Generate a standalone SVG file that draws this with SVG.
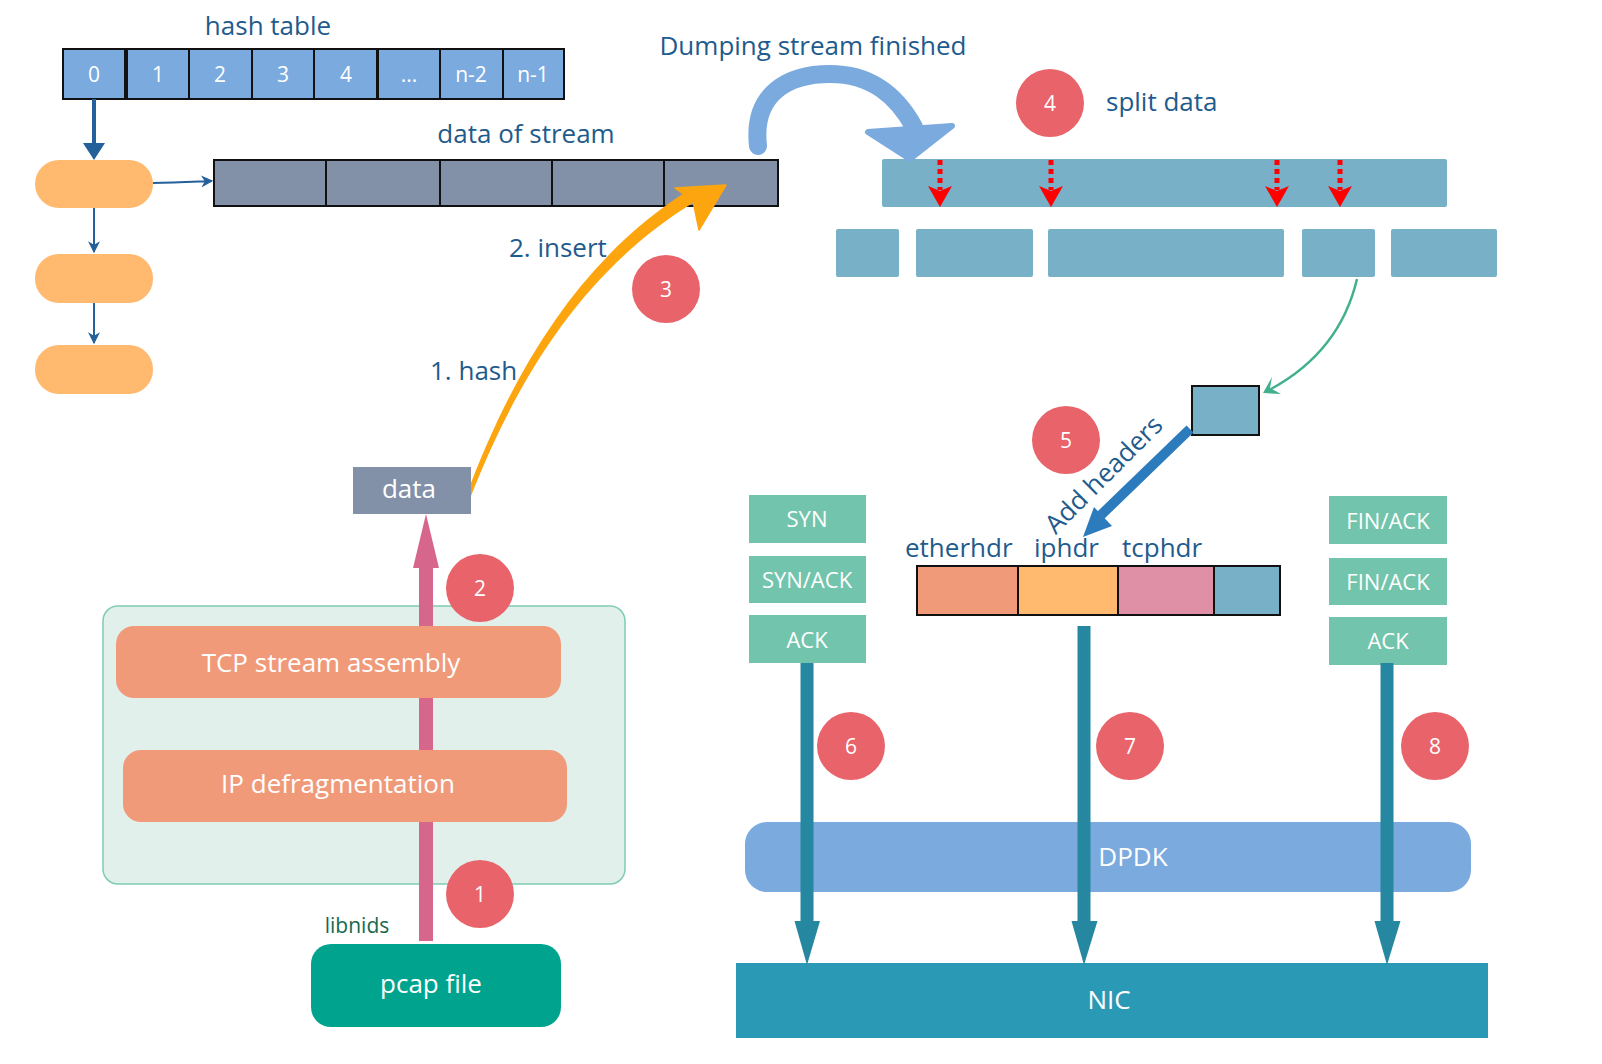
<svg xmlns="http://www.w3.org/2000/svg" width="1602" height="1064" viewBox="0 0 1602 1064">
<defs>
<style>
text{font-family:"Open Sans","Noto Sans","DejaVu Sans",sans-serif}
.lbl{fill:#1F5B8C;font-size:26px}
.w{fill:#fff;text-anchor:middle}
.cell{fill:#7BAADF;stroke:#111;stroke-width:2}
.seg{fill:#8391A8;stroke:#111;stroke-width:2}
.pill{fill:#FFBA70}
.teal{fill:#78B0C8}
.mint{fill:#72C5AC}
.num{fill:#E8636A}
.numt{fill:#fff;font-size:21px;text-anchor:middle}
.red{stroke:#FF0000;stroke-width:5;stroke-dasharray:5 4;fill:none}
.redh{fill:#FF0000}
.tarr{stroke:#2587A0;stroke-width:13;fill:none}
.tarh{fill:#2587A0}
</style>
<marker id="ah" viewBox="0 0 10 10" refX="9" refY="5" markerWidth="12" markerHeight="12" orient="auto" markerUnits="userSpaceOnUse">
<path d="M0,0 L10,5 L0,10 L3,5 Z" fill="#24609A"/>
</marker>
</defs>
<rect width="1602" height="1064" fill="#fff"/>

<g id="hash-table">
<text class="lbl" x="268" y="35" text-anchor="middle" font-size="28">hash table</text>
<rect class="cell" x="63" y="49" width="62" height="50"/>
<rect class="cell" x="127" y="49" width="62" height="50"/>
<rect class="cell" x="189" y="49" width="63" height="50"/>
<rect class="cell" x="252" y="49" width="62" height="50"/>
<rect class="cell" x="314" y="49" width="63" height="50"/>
<rect class="cell" x="378" y="49" width="62" height="50"/>
<rect class="cell" x="440" y="49" width="63" height="50"/>
<rect class="cell" x="503" y="49" width="61" height="50"/>
<g class="w" font-size="21">
<text x="94" y="82">0</text>
<text x="158" y="82">1</text>
<text x="220" y="82">2</text>
<text x="283" y="82">3</text>
<text x="346" y="82">4</text>
<text x="409" y="82">...</text>
<text x="471" y="82">n-2</text>
<text x="533" y="82">n-1</text>
</g>
</g>

<g id="bucket-list">
<rect class="pill" x="35" y="160" width="118" height="48" rx="24"/>
<rect class="pill" x="35" y="254" width="118" height="49" rx="24"/>
<rect class="pill" x="35" y="345" width="118" height="49" rx="24"/>
</g>

<g id="data-of-stream">
<text class="lbl" x="526" y="143" text-anchor="middle">data of stream</text>
<rect class="seg" x="214" y="160" width="112" height="46"/>
<rect class="seg" x="326" y="160" width="114" height="46"/>
<rect class="seg" x="440" y="160" width="112" height="46"/>
<rect class="seg" x="552" y="160" width="112" height="46"/>
<rect class="seg" x="664" y="160" width="114" height="46"/>
</g>

<g id="dumping-label">
<text class="lbl" x="813" y="55" text-anchor="middle">Dumping stream finished</text>
</g>

<g id="split-stream">
<rect class="teal" x="882" y="159" width="565" height="48" rx="2"/>
<rect class="teal" x="836" y="229" width="63" height="48" rx="2"/>
<rect class="teal" x="916" y="229" width="117" height="48" rx="2"/>
<rect class="teal" x="1048" y="229" width="236" height="48" rx="2"/>
<rect class="teal" x="1302" y="229" width="73" height="48" rx="2"/>
<rect class="teal" x="1391" y="229" width="106" height="48" rx="2"/>
</g>

<g id="step4">
<circle class="num" cx="1050" cy="103" r="34"/>
<text class="numt" x="1050" y="111">4</text>
<text class="lbl" x="1106" y="111">split data</text>
</g>

<g id="segment">
<rect class="teal" x="1192" y="386" width="67" height="49" stroke="#111" stroke-width="2"/>
</g>

<g id="step5">
<circle class="num" cx="1066" cy="440" r="34"/>
<text class="numt" x="1066" y="448">5</text>
</g>

<g id="packet">
<text class="lbl" x="905" y="557">etherhdr</text>
<text class="lbl" x="1034" y="557">iphdr</text>
<text class="lbl" x="1122" y="557">tcphdr</text>
<rect x="917" y="566" width="101" height="49" fill="#F09A7A" stroke="#111" stroke-width="2"/>
<rect x="1018" y="566" width="100" height="49" fill="#FFBA70" stroke="#111" stroke-width="2"/>
<rect x="1118" y="566" width="96" height="49" fill="#DF8FA6" stroke="#111" stroke-width="2"/>
<rect x="1214" y="566" width="66" height="49" fill="#78B0C8" stroke="#111" stroke-width="2"/>
</g>

<g id="handshake">
<rect class="mint" x="749" y="495" width="117" height="48"/>
<rect class="mint" x="749" y="556" width="117" height="47"/>
<rect class="mint" x="749" y="615" width="117" height="48"/>
<g class="w" font-size="22">
<text x="807" y="527">SYN</text>
<text x="807" y="588">SYN/ACK</text>
<text x="807" y="648">ACK</text>
</g>
</g>

<g id="teardown">
<rect class="mint" x="1329" y="496" width="118" height="48"/>
<rect class="mint" x="1329" y="558" width="118" height="47"/>
<rect class="mint" x="1329" y="617" width="118" height="48"/>
<g class="w" font-size="22">
<text x="1388" y="529">FIN/ACK</text>
<text x="1388" y="590">FIN/ACK</text>
<text x="1388" y="649">ACK</text>
</g>
</g>

<g id="dpdk">
<rect x="745" y="822" width="726" height="70" rx="22" fill="#7BAADF"/>
<text class="w" x="1133" y="866" font-size="26">DPDK</text>
</g>

<g id="nic">
<rect x="736" y="963" width="752" height="75" fill="#2A99B6"/>
<text class="w" x="1109" y="1009" font-size="26">NIC</text>
</g>

<g id="libnids">
<rect x="103" y="606" width="522" height="278" rx="15" fill="#E2F0EC" stroke="#7FCCB0" stroke-width="1.5"/>
<text x="357" y="933" font-size="21" fill="#17694F" text-anchor="middle">libnids</text>
</g>

<g id="pcap-file">
<rect x="311" y="944" width="250" height="83" rx="20" fill="#00A48E"/>
<text class="w" x="431" y="993" font-size="26">pcap file</text>
</g>

<g id="connectors">
<line x1="94" y1="99" x2="94" y2="146" stroke="#24609A" stroke-width="4"/>
<polygon points="83,143 105,143 94,160" fill="#24609A"/>
<line x1="94" y1="208" x2="94" y2="252" stroke="#24609A" stroke-width="2" marker-end="url(#ah)"/>
<line x1="94" y1="303" x2="94" y2="343" stroke="#24609A" stroke-width="2" marker-end="url(#ah)"/>
<path d="M153 183 C 175 183, 190 182, 212 181" stroke="#24609A" stroke-width="2" fill="none" marker-end="url(#ah)"/>

<line x1="426" y1="941" x2="426" y2="565" stroke="#D6668C" stroke-width="14"/>
<polygon points="413,568 439,568 426,514" fill="#D6668C"/>

<path d="M465 499 C 517 358, 587 255, 686.5 191.5 L 693.5 202.5 C 593 264.5, 523 362, 469 501 Z" fill="#FDA50F"/>
<polygon points="675,188 726,185 699,230 693,201" fill="#FDA50F" stroke="#FDA50F" stroke-width="1.5" stroke-linejoin="round"/>

<path d="M758 146 C 752 92, 790 74, 830 74 C 872 74, 897 96, 914 127" stroke="#7BAADF" stroke-width="18" stroke-linecap="round" fill="none"/>
<polygon points="868,132 952,126 910,159" fill="#7BAADF" stroke="#7BAADF" stroke-width="6" stroke-linejoin="round"/>

<line class="red" x1="940" y1="160" x2="940" y2="190"/>
<polygon class="redh" points="928,186 940,191 952,186 940,207"/>
<line class="red" x1="1051" y1="160" x2="1051" y2="190"/>
<polygon class="redh" points="1039,186 1051,191 1063,186 1051,207"/>
<line class="red" x1="1277" y1="160" x2="1277" y2="190"/>
<polygon class="redh" points="1265,186 1277,191 1289,186 1277,207"/>
<line class="red" x1="1340" y1="160" x2="1340" y2="190"/>
<polygon class="redh" points="1328,186 1340,191 1352,186 1340,207"/>

<path d="M1357 279 C 1345 330, 1315 365, 1271 389" stroke="#41B08E" stroke-width="2.5" fill="none"/>
<polygon points="1263,393 1272,377 1270,388 1281,394" fill="#41B08E"/>

<line x1="1190" y1="429" x2="1101" y2="515" stroke="#2B7BBD" stroke-width="10"/>
<polygon points="1083,537 1094,507 1112,526" fill="#2B7BBD"/>
<text class="lbl" x="1110" y="481" text-anchor="middle" font-size="25" transform="rotate(-45 1110 481)">Add headers</text>

<line class="tarr" x1="807" y1="663" x2="807" y2="925"/>
<polygon class="tarh" points="794.5,921 820,921 807,965"/>
<line class="tarr" x1="1084" y1="626" x2="1084" y2="925"/>
<polygon class="tarh" points="1071.5,921 1097.5,921 1084,965"/>
<line class="tarr" x1="1387" y1="663" x2="1387" y2="925"/>
<polygon class="tarh" points="1374.5,921 1400.5,921 1387,965"/>
</g>

<g id="data-node">
<rect x="353" y="467" width="118" height="47" fill="#8391A8"/>
<text class="w" x="409" y="498" font-size="26">data</text>
<text class="lbl" x="509" y="257">2. insert</text>
<text class="lbl" x="430" y="380">1. hash</text>
</g>

<g id="steps">
<circle class="num" cx="666" cy="289" r="34"/>
<text class="numt" x="666" y="297">3</text>
<circle class="num" cx="480" cy="588" r="34"/>
<text class="numt" x="480" y="596">2</text>
<circle class="num" cx="480" cy="894" r="34"/>
<text class="numt" x="480" y="902">1</text>
<circle class="num" cx="851" cy="746" r="34"/>
<text class="numt" x="851" y="754">6</text>
<circle class="num" cx="1130" cy="746" r="34"/>
<text class="numt" x="1130" y="754">7</text>
<circle class="num" cx="1435" cy="746" r="34"/>
<text class="numt" x="1435" y="754">8</text>
</g>

<g id="processing-layers">
<rect x="116" y="626" width="445" height="72" rx="18" fill="#F09A7A"/>
<text class="w" x="331" y="672" font-size="26">TCP stream assembly</text>
<rect x="123" y="750" width="444" height="72" rx="18" fill="#F09A7A"/>
<text class="w" x="338" y="793" font-size="26">IP defragmentation</text>
</g>
</svg>
